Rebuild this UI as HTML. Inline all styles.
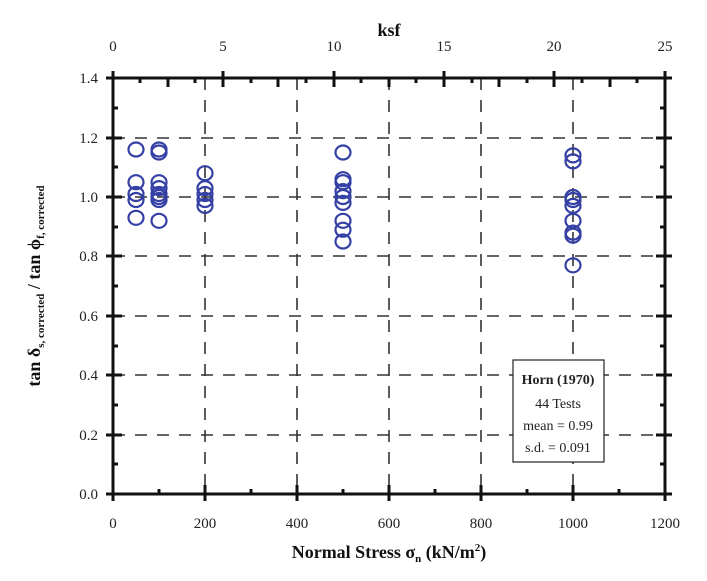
<!DOCTYPE html>
<html><head><style>body{margin:0;background:#fff}svg{display:block}</style></head><body>
<svg width="707" height="581" xmlns="http://www.w3.org/2000/svg" font-family="Liberation Serif, serif">
<g stroke="#333" stroke-width="1.6" stroke-dasharray="12,10">
<line x1="205" y1="78" x2="205" y2="494"/><line x1="297" y1="78" x2="297" y2="494"/><line x1="389" y1="78" x2="389" y2="494"/><line x1="481" y1="78" x2="481" y2="494"/><line x1="573" y1="78" x2="573" y2="494"/>
<line x1="113" y1="138" x2="665" y2="138"/><line x1="113" y1="197" x2="665" y2="197"/><line x1="113" y1="256" x2="665" y2="256"/><line x1="113" y1="316" x2="665" y2="316"/><line x1="113" y1="375" x2="665" y2="375"/><line x1="113" y1="435" x2="665" y2="435"/>
</g>
<g stroke="#111" stroke-width="3">
<rect x="113" y="78" width="552" height="416" fill="none"/>
<path d="M159,494v-5M205,501v-16M251,494v-5M297,501v-16M343,494v-5M389,501v-16M435,494v-5M481,501v-16M527,494v-5M573,501v-16M619,494v-5M113,501v-7M665,501v-7
M113,464h5M106,435h16M113,405h5M106,375h16M113,346h5M106,316h16M113,286h5M106,256h16M113,227h5M106,197h16M113,167h5M106,138h16M113,108h5M106,494h7M106,78h7
M665,464h-5M672,435h-16M665,405h-5M672,375h-16M665,346h-5M672,316h-16M665,286h-5M672,256h-16M665,227h-5M672,197h-16M665,167h-5M672,138h-16M665,108h-5M672,494h-7M672,78h-7
M168,78v9M223,71v16M278,78v9M334,71v16M389,78v9M444,71v16M499,78v9M554,71v16M610,78v9M113,71v7M665,71v7
M140,78v5M195,78v5M251,78v5M306,78v5M361,78v5M416,78v5M472,78v5M527,78v5M582,78v5M637,78v5"/>
</g>
<g fill="none" stroke="#3540a5" stroke-width="2.2">
<ellipse cx="136" cy="149.5" rx="7.5" ry="7"/><ellipse cx="136" cy="182.2" rx="7.5" ry="7"/><ellipse cx="136" cy="194" rx="7.5" ry="7"/><ellipse cx="136" cy="200" rx="7.5" ry="7"/><ellipse cx="136" cy="217.8" rx="7.5" ry="7"/>
<ellipse cx="159" cy="149.5" rx="7.5" ry="7"/><ellipse cx="159" cy="152.5" rx="7.5" ry="7"/><ellipse cx="159" cy="182.2" rx="7.5" ry="7"/><ellipse cx="159" cy="188.1" rx="7.5" ry="7"/><ellipse cx="159" cy="194" rx="7.5" ry="7"/><ellipse cx="159" cy="197" rx="7.5" ry="7"/><ellipse cx="159" cy="200" rx="7.5" ry="7"/><ellipse cx="159" cy="220.8" rx="7.5" ry="7"/>
<ellipse cx="205" cy="173.2" rx="7.5" ry="7"/><ellipse cx="205" cy="188.1" rx="7.5" ry="7"/><ellipse cx="205" cy="194" rx="7.5" ry="7"/><ellipse cx="205" cy="200" rx="7.5" ry="7"/><ellipse cx="205" cy="205.9" rx="7.5" ry="7"/>
<ellipse cx="343" cy="152.5" rx="7.5" ry="7"/><ellipse cx="343" cy="179.2" rx="7.5" ry="7"/><ellipse cx="343" cy="182.2" rx="7.5" ry="7"/><ellipse cx="343" cy="191.1" rx="7.5" ry="7"/><ellipse cx="343" cy="197" rx="7.5" ry="7"/><ellipse cx="343" cy="202.9" rx="7.5" ry="7"/><ellipse cx="343" cy="220.8" rx="7.5" ry="7"/><ellipse cx="343" cy="229.7" rx="7.5" ry="7"/><ellipse cx="343" cy="241.5" rx="7.5" ry="7"/>
<ellipse cx="573" cy="155.4" rx="7.5" ry="7"/><ellipse cx="573" cy="161.4" rx="7.5" ry="7"/><ellipse cx="573" cy="197" rx="7.5" ry="7"/><ellipse cx="573" cy="200" rx="7.5" ry="7"/><ellipse cx="573" cy="205.9" rx="7.5" ry="7"/><ellipse cx="573" cy="220.8" rx="7.5" ry="7"/><ellipse cx="573" cy="232.6" rx="7.5" ry="7"/><ellipse cx="573" cy="235.6" rx="7.5" ry="7"/><ellipse cx="573" cy="265.3" rx="7.5" ry="7"/>
</g>
<g font-size="15" fill="#222" text-anchor="middle">
<text x="113" y="528">0</text><text x="205" y="528">200</text><text x="297" y="528">400</text><text x="389" y="528">600</text><text x="481" y="528">800</text><text x="573" y="528">1000</text><text x="665" y="528">1200</text>
<text x="113" y="51">0</text><text x="223" y="51">5</text><text x="334" y="51">10</text><text x="444" y="51">15</text><text x="554" y="51">20</text><text x="665" y="51">25</text>
</g>
<g font-size="15" fill="#222" text-anchor="end">
<text x="98" y="499">0.0</text><text x="98" y="440">0.2</text><text x="98" y="380">0.4</text><text x="98" y="321">0.6</text><text x="98" y="261">0.8</text><text x="98" y="202">1.0</text><text x="98" y="143">1.2</text><text x="98" y="83">1.4</text>
</g>
<text x="389" y="36" font-size="18" font-weight="bold" text-anchor="middle" fill="#111">ksf</text>
<text x="389" y="558" font-size="18" font-weight="bold" text-anchor="middle" fill="#111">Normal Stress σ<tspan font-size="11" dy="4">n</tspan><tspan dy="-4"> (kN/m</tspan><tspan font-size="11" dy="-7">2</tspan><tspan dy="7">)</tspan></text>
<text transform="translate(40,286) rotate(-90)" font-size="18" font-weight="bold" text-anchor="middle" fill="#111">tan δ<tspan font-size="11" dy="4">s, corrected</tspan><tspan dy="-4"> / tan ϕ</tspan><tspan font-size="11" dy="4">f, corrected</tspan></text>
<rect x="513" y="360" width="91" height="102" fill="#fff" stroke="#222" stroke-width="1.2"/>
<g font-size="14" text-anchor="middle" fill="#222">
<text x="558" y="384" font-weight="bold">Horn (1970)</text>
<text x="558" y="408">44 Tests</text>
<text x="558" y="430">mean = 0.99</text>
<text x="558" y="452">s.d. = 0.091</text>
</g>
</svg>
</body></html>
